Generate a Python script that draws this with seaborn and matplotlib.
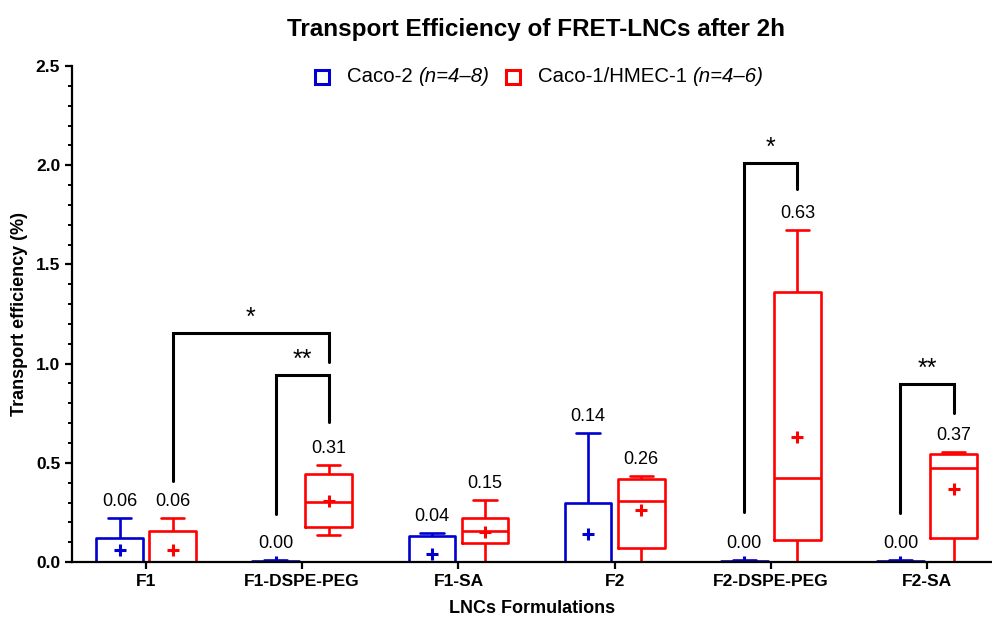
import pandas as pd
import matplotlib.pyplot as plt
import seaborn as sns
from matplotlib.patches import Rectangle
from matplotlib.ticker import MultipleLocator
from matplotlib.offsetbox import (AnchoredOffsetbox, DrawingArea, HPacker,
                                  TextArea)

# ---------- data ----------
formulations = ["F1", "F1-DSPE-PEG", "F1-SA", "F2", "F2-DSPE-PEG", "F2-SA"]
cells = ["Caco-2", "Caco-1/HMEC-1"]
n_labels = ["(n=4–8)", "(n=4–6)"]

# box summaries per formulation: min, q1, median, q3, max
caco2_min = [0.00, 0.00, 0.00, 0.00, 0.00, 0.00]
caco2_q1 = [0.00, 0.00, 0.00, 0.00, 0.00, 0.00]
caco2_med = [0.00, 0.00, 0.00, 0.00, 0.00, 0.00]
caco2_q3 = [0.12, 0.005, 0.13, 0.30, 0.005, 0.005]
caco2_max = [0.22, 0.01, 0.145, 0.65, 0.01, 0.01]
caco2_mean = [0.06, 0.00, 0.04, 0.14, 0.00, 0.00]

hmec_min = [0.00, 0.135, 0.00, 0.00, 0.00, 0.00]
hmec_q1 = [0.00, 0.175, 0.095, 0.07, 0.11, 0.12]
hmec_med = [0.00, 0.305, 0.155, 0.31, 0.425, 0.475]
hmec_q3 = [0.155, 0.445, 0.222, 0.418, 1.36, 0.543]
hmec_max = [0.222, 0.49, 0.315, 0.433, 1.673, 0.553]
hmec_mean = [0.06, 0.31, 0.15, 0.26, 0.63, 0.37]

blue = "#0000D0"
red = "#FF0000"

# long table for seaborn
rows = []
for i, f in enumerate(formulations):
    for v in [caco2_min[i], caco2_q1[i], caco2_med[i], caco2_q3[i], caco2_max[i]]:
        rows.append((f, "Caco-2", v))
    for v in [hmec_min[i], hmec_q1[i], hmec_med[i], hmec_q3[i], hmec_max[i]]:
        rows.append((f, "Caco-1/HMEC-1", v))
df = pd.DataFrame(rows, columns=["formulation", "cell", "value"])

means = pd.DataFrame({
    "formulation": formulations * 2,
    "cell": ["Caco-2"] * 6 + ["Caco-1/HMEC-1"] * 6,
    "value": caco2_mean + hmec_mean,
})

# ---------- style ----------
sns.set_style("ticks")
plt.rcParams["font.family"] = ["Liberation Sans", "DejaVu Sans"]
plt.rcParams.update({"text.color": "black", "axes.labelcolor": "black",
                     "xtick.color": "black", "ytick.color": "black",
                     "axes.edgecolor": "black"})

fig = plt.figure(figsize=(9.92, 6.19), dpi=100)
ax = fig.add_axes([0.0726, 0.092, 0.9274, 0.8014])

lw = 1.9
sns.boxplot(data=df, x="formulation", y="value", hue="cell", order=formulations,
            hue_order=cells, palette=[blue, red], fill=False, whis=(0, 100),
            width=0.68, gap=0.12, linewidth=lw, legend=False, ax=ax)

sns.pointplot(data=means, x="formulation", y="value", hue="cell", order=formulations,
              hue_order=cells, palette=[blue, red], dodge=0.34, linestyle="none",
              marker="+", markersize=8, markeredgewidth=2.2, errorbar=None,
              legend=False, ax=ax)

# mean labels above the whiskers
off = 0.17
for i in range(len(formulations)):
    ax.text(i - off, caco2_max[i] + 0.04, f"{caco2_mean[i]:.2f}", ha="center",
            va="bottom", fontsize=13)
    ax.text(i + off, hmec_max[i] + 0.04, f"{hmec_mean[i]:.2f}", ha="center",
            va="bottom", fontsize=13)

# significance brackets: x left, x right, top, left foot, right foot, label
brackets = [
    (0 + off, 1 + off, 1.156, 0.408, 1.01, "*"),
    (1 - off, 1 + off, 0.943, 0.24, 0.707, "**"),
    (4 - off, 4 + off, 2.01, 0.254, 1.878, "*"),
    (5 - off, 5 + off, 0.897, 0.245, 0.749, "**"),
]
for x1, x2, top, y1, y2, lab in brackets:
    ax.plot([x1, x1, x2, x2], [y1, top, top, y2], color="black", lw=2.2,
            solid_joinstyle="miter", clip_on=False)
    ax.text((x1 + x2) / 2, top + 0.015, lab, ha="center", va="bottom",
            fontsize=18)

# ---------- axes ----------
ax.set_xlim(-0.474, 5.416)
ax.set_ylim(0, 2.5)
ax.yaxis.set_major_locator(MultipleLocator(0.5))
ax.yaxis.set_minor_locator(MultipleLocator(0.1))
ax.tick_params(axis="both", which="major", length=5, width=1.6, labelsize=12.5)
ax.tick_params(axis="y", which="minor", length=3, width=1.4)
ax.set_yticks([0, 0.5, 1.0, 1.5, 2.0, 2.5])
ax.set_yticklabels(["0.0", "0.5", "1.0", "1.5", "2.0", "2.5"])
for t in ax.get_xticklabels() + ax.get_yticklabels():
    t.set_fontweight("bold")
sns.despine(ax=ax, right=True, top=True)
ax.spines["left"].set_linewidth(1.6)
ax.spines["bottom"].set_linewidth(1.6)

ax.set_xlabel("LNCs Formulations", fontsize=13, fontweight="bold", labelpad=8)
ax.set_ylabel("Transport efficiency (%)", fontsize=13, fontweight="bold", labelpad=6)
fig.suptitle("Transport Efficiency of FRET-LNCs after 2h", fontsize=17.5,
             fontweight="bold", x=0.540, y=0.952, va="center")

# legend: open squares + normal text + italic n range
items = []
for cell, nlab, col in zip(cells, n_labels, [blue, red]):
    da = DrawingArea(12, 12, 0, 0)
    da.add_artist(Rectangle((1, 1), 10, 10, facecolor="none",
                            edgecolor=col, linewidth=2.2))
    items.append(HPacker(children=[
        da,
        HPacker(children=[
            TextArea(cell, textprops=dict(fontsize=14.7)),
            TextArea(nlab, textprops=dict(fontsize=14.7, style="italic")),
        ], align="baseline", pad=0, sep=4),
    ], align="center", pad=0, sep=12))
legend_box = HPacker(children=items, align="center", pad=0, sep=11)
anchored = AnchoredOffsetbox(loc="center", child=legend_box, pad=0, frameon=False,
                             bbox_to_anchor=(0.543, 1.0 - 77 / 619),
                             bbox_transform=fig.transFigure, borderpad=0)
fig.add_artist(anchored)

fig.savefig("out.png", dpi=100)
